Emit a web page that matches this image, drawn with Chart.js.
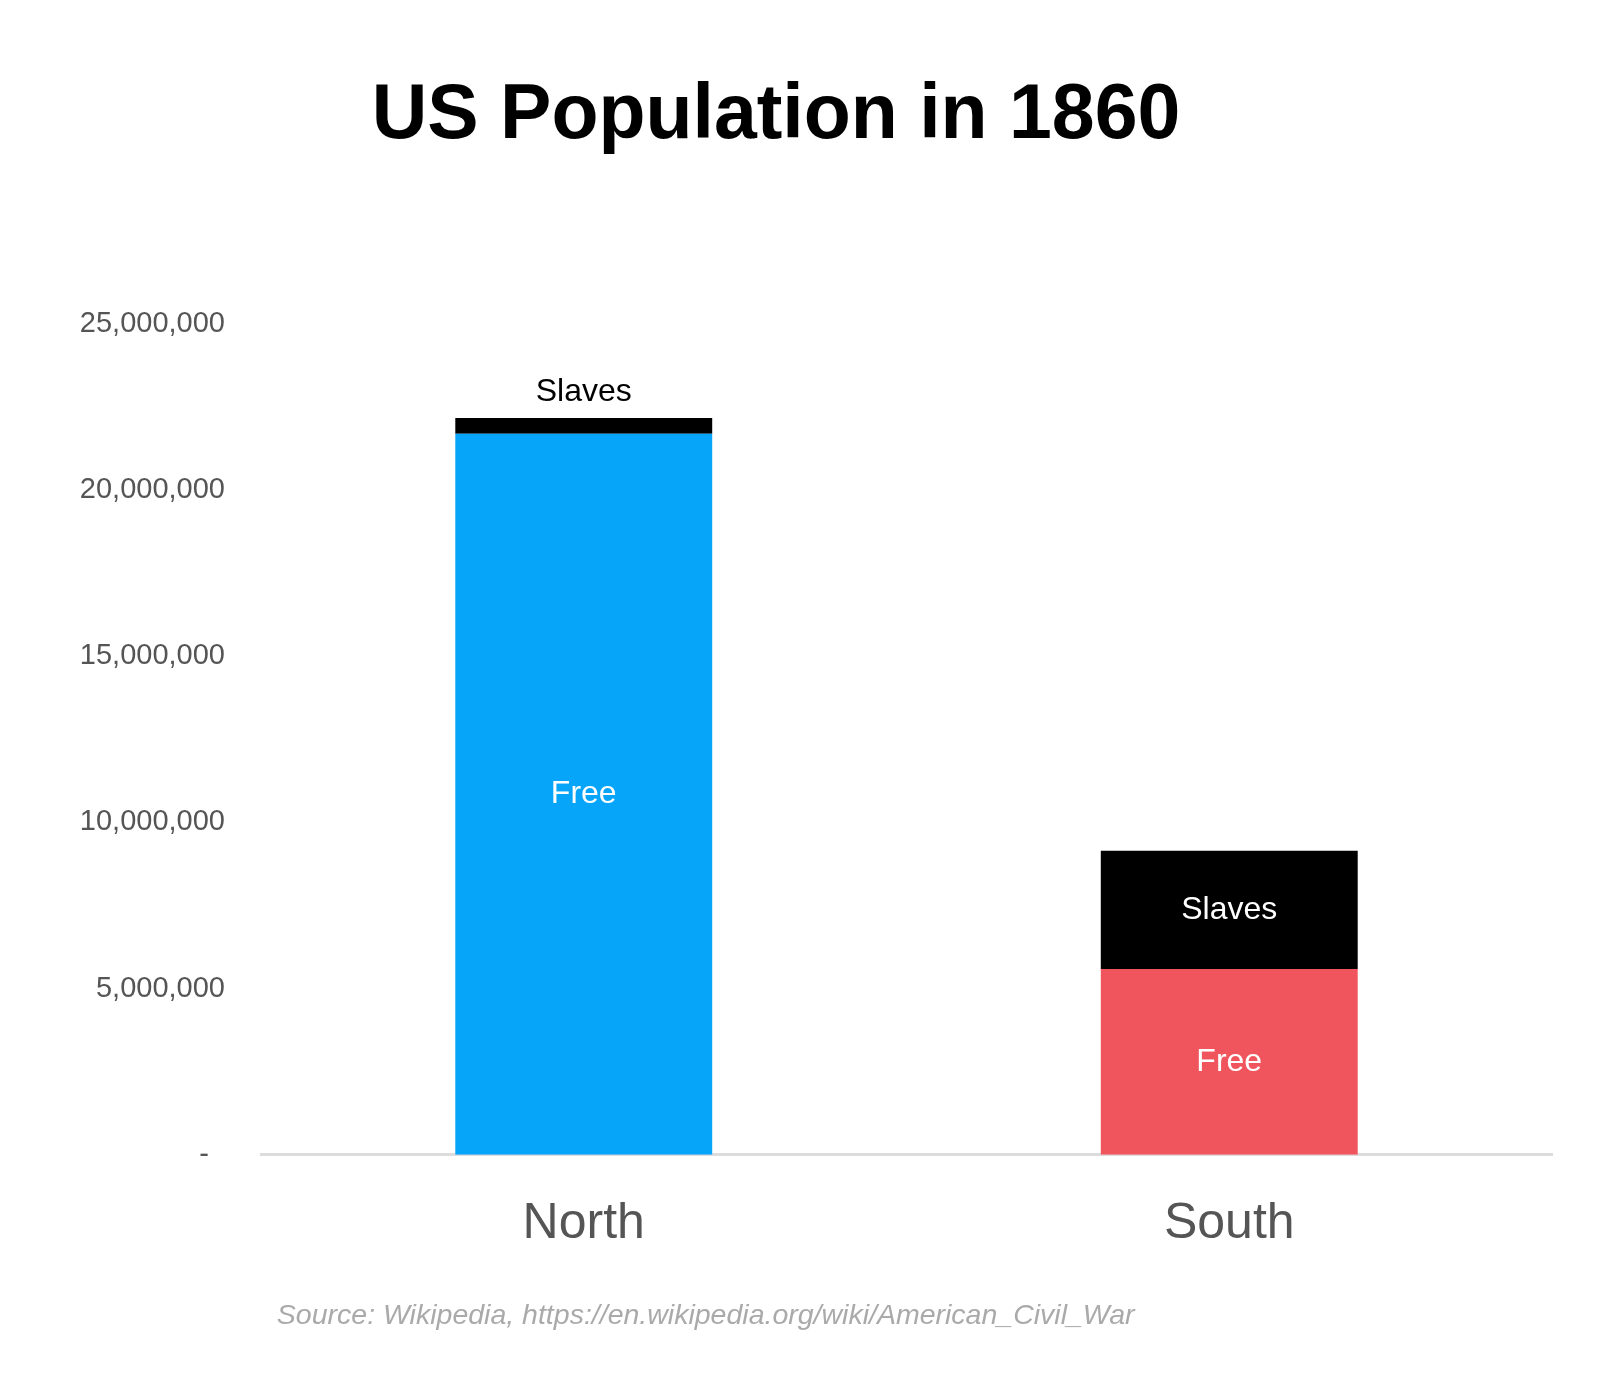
<!DOCTYPE html>
<html>
<head>
<meta charset="utf-8">
<script src="https://cdn.jsdelivr.net/npm/chart.js@4"></script>
<style>
  html, body { margin: 0; padding: 0; background: #fff; }
  #wrap { width: 1600px; height: 1377px; position: relative; }
</style>
</head>
<body>
<div id="wrap"><canvas id="popChart"></canvas></div>
<script>
// data
const regions = ["North", "South"];
const freePop = [21700000, 5590000];
const slavePop = [470000, 3560000];
const yTicks = [0, 5000000, 10000000, 15000000, 20000000, 25000000];

const FONT = "'Liberation Sans', Arial, Helvetica, sans-serif";

// writes the segment name on each bar piece (above the bar if the piece is too thin)
const segmentLabels = {
  id: "segmentLabels",
  afterDatasetsDraw(chart) {
    const ctx = chart.ctx;
    ctx.save();
    ctx.font = "32px " + FONT;
    ctx.textAlign = "center";
    ctx.textBaseline = "middle";
    chart.data.datasets.forEach((ds, di) => {
      const meta = chart.getDatasetMeta(di);
      meta.data.forEach((bar) => {
        const top = Math.min(bar.y, bar.base);
        const h = Math.abs(bar.base - bar.y);
        if (h < 50) {
          ctx.fillStyle = "#000";
          ctx.fillText(ds.label, bar.x, top - 26);
        } else {
          ctx.fillStyle = "#fff";
          ctx.fillText(ds.label, bar.x, top + h / 2);
        }
      });
    });
    ctx.restore();
  },
};

const data = {
  labels: regions,
  datasets: [
    {
      label: "Free",
      data: freePop,
      backgroundColor: ["#06a5fa", "#f0555d"],
      borderWidth: 0,
    },
    {
      label: "Slaves",
      data: slavePop,
      backgroundColor: "#000000",
      borderWidth: 0,
    },
  ],
};

const options = {
  responsive: true,
  maintainAspectRatio: false,
  animation: false,
  layout: { padding: { left: 0, right: 48, top: 0, bottom: 0 } },
  datasets: {
    bar: { categoryPercentage: 1, barPercentage: 0.398 },
  },
  plugins: {
    legend: { display: false },
    tooltip: { enabled: false },
    title: {
      display: true,
      text: "US Population in 1860",
      color: "#000",
      font: { family: FONT, size: 77, weight: "bold", lineHeight: 1 },
      padding: { top: 78, bottom: 169 },
    },
    subtitle: {
      display: true,
      position: "bottom",
      align: "start",
      fullSize: false,
      text: "  Source: Wikipedia, https://en.wikipedia.org/wiki/American_Civil_War",
      color: "#aaaaaa",
      font: { family: FONT, size: 28.5, style: "italic", lineHeight: 1.2 },
      padding: { top: 6, bottom: 44 },
    },
  },
  scales: {
    x: {
      stacked: true,
      grid: { display: false, drawTicks: false },
      border: { display: true, color: "#dcdcdc", width: 3 },
      ticks: {
        color: "#555",
        padding: 39,
        font: { family: FONT, size: 50, lineHeight: 1.2 },
      },
    },
    y: {
      stacked: true,
      min: 0,
      max: 25000000,
      grid: { display: false, drawTicks: false },
      border: { display: false },
      afterBuildTicks(scale) {
        scale.ticks = yTicks.map((v) => ({ value: v }));
      },
      afterFit(scale) {
        scale.width = 261;
      },
      ticks: {
        color: "#555",
        padding: 36,
        font: { family: FONT, size: 29 },
        callback: function (value) {
          if (value === 0) return "-  ";
          return value.toLocaleString("en-US");
        },
      },
    },
  },
};

const ctx = document.getElementById("popChart").getContext("2d");
new Chart(ctx, {
  type: "bar",
  data: data,
  options: options,
  plugins: [segmentLabels],
});
</script>
</body>
</html>
